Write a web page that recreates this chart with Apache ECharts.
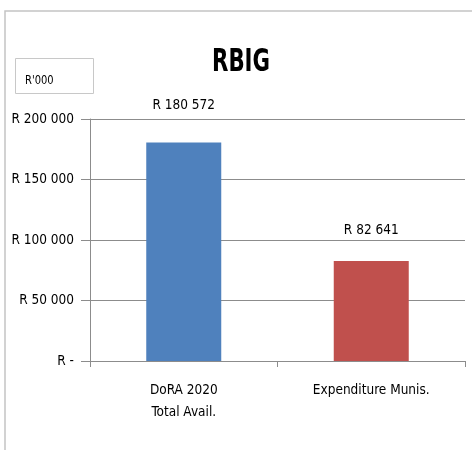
<!DOCTYPE html>
<html>
<head>
<meta charset="utf-8">
<style>
  html, body { margin: 0; padding: 0; background: #fff; }
  #chart { width: 472px; height: 450px; }
</style>
<script src="https://cdn.jsdelivr.net/npm/echarts@6/dist/echarts.min.js"></script>
</head>
<body>
<div id="chart"></div>
<script>
// RBIG funding: allocation vs municipal expenditure (R'000)
const categories = ['DoRA 2020\nTotal Avail.', 'Expenditure Munis.'];
const values = [180572, 82641];
const barColors = ['#4F81BD', '#C0504D'];
const edgeColors = ['#9CB6DA', '#DC8F8D'];
const yTicks = [0, 50000, 100000, 150000, 200000];

const FONT = '"Liberation Sans Narrow", "DejaVu Sans Condensed", "Liberation Sans", sans-serif';

function rand(v) {
  if (v === 0) return 'R -';
  return 'R ' + String(v).replace(/\B(?=(\d{3})+(?!\d))/g, ' ');
}

const labelGap = [30, 24];

const chart = echarts.init(document.getElementById('chart'), null, { renderer: 'canvas' });

chart.setOption({
  animation: false,
  backgroundColor: '#ffffff',
  graphic: [
    {
      type: 'rect',
      shape: { x: 5, y: 11, width: 480, height: 460 },
      style: { fill: 'none', stroke: '#c4c4c4', lineWidth: 1.5 },
      silent: true
    },
    {
      type: 'text',
      x: 241,
      y: 63,
      scaleX: 0.74,
      style: {
        text: 'RBIG', fontFamily: FONT, fontSize: 32, fontWeight: 'bold',
        fill: '#000', align: 'center', verticalAlign: 'middle'
      },
      silent: true
    },
    {
      type: 'rect',
      shape: { x: 15.5, y: 58.5, width: 78, height: 35 },
      style: { fill: '#fff', stroke: '#c8c8c8', lineWidth: 1 },
      silent: true
    },
    {
      type: 'text',
      x: 25,
      y: 81,
      scaleX: 0.85,
      style: { text: "R'000", fontFamily: FONT, fontSize: 13, fill: '#000', verticalAlign: 'middle' },
      silent: true
    }
  ],
  grid: { left: 90, right: 7, top: 119, bottom: 89, containLabel: false },
  xAxis: {
    type: 'category',
    data: categories,
    axisLine: { show: true, lineStyle: { color: '#8c8c8c', width: 1 } },
    axisTick: { show: true, alignWithLabel: false, length: 6, lineStyle: { color: '#8c8c8c' } },
    axisLabel: {
      fontFamily: FONT, fontSize: 13.5, color: '#000',
      margin: 18, lineHeight: 22
    }
  },
  yAxis: {
    type: 'value',
    min: 0,
    max: 200000,
    interval: 50000,
    axisLine: { show: true, lineStyle: { color: '#8c8c8c', width: 1 } },
    axisTick: { show: true, inside: false, length: 9, lineStyle: { color: '#8c8c8c' } },
    splitLine: { show: true, lineStyle: { color: '#8c8c8c', width: 1 } },
    axisLabel: {
      fontFamily: FONT, fontSize: 13.5, color: '#000', margin: 16,
      customValues: yTicks,
      formatter: v => rand(v)
    }
  },
  series: [{
    type: 'bar',
    barWidth: 75,
    data: values.map((v, i) => ({
      value: v,
      itemStyle: { color: barColors[i], borderColor: edgeColors[i], borderWidth: 0 },
      label: { distance: labelGap[i] }
    })),
    label: {
      show: true,
      position: 'top',
      fontFamily: FONT,
      fontSize: 13.5,
      color: '#000',
      formatter: p => rand(p.value)
    }
  }]
});
</script>
</body>
</html>
